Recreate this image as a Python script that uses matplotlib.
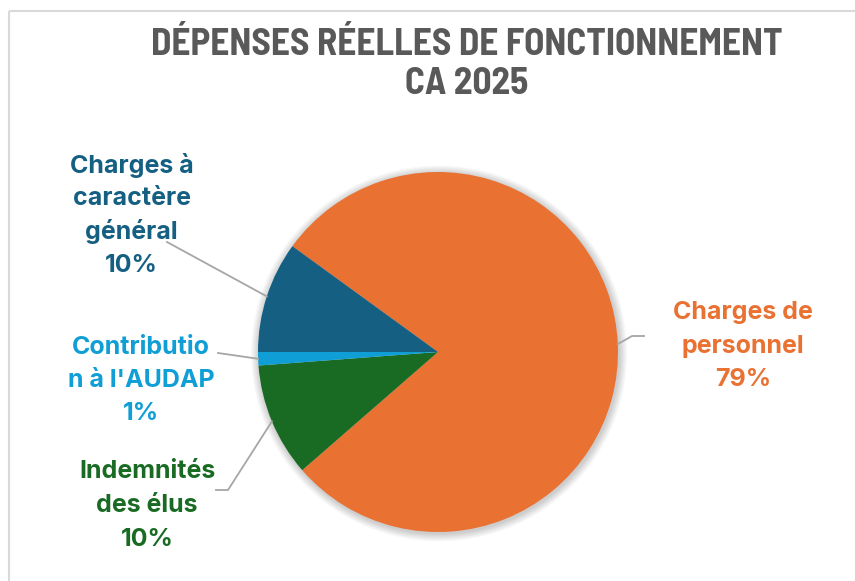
import matplotlib
matplotlib.use("Agg")
import matplotlib.pyplot as plt
import numpy as np
from matplotlib.patches import Circle

# ---- data ----
categories = ["Charges de personnel", "Indemnités des élus",
              "Contribution à l'AUDAP", "Charges à caractère général"]
label_lines = [["Charges de", "personnel"],
               ["Indemnités", "des élus"],
               ["Contributio", "n à l'AUDAP"],
               ["Charges à", "caractère", "général"]]
shares = [78.6, 10.2, 1.2, 10.0]
colors = ["#E97132", "#196B24", "#0F9ED5", "#156082"]
title_lines = ["DÉPENSES RÉELLES DE FONCTIONNEMENT", "CA 2025"]

# ---- layout (pixels) ----
W, H = 855, 581
cx, cy, R = 438, 352, 180
label_pos = [(743, 313), (147, 472), (141, 347), (131.5, 165)]
label_anchor = [[(632, 336), (644, 336)],
                [(228, 490), (216, 490)],
                [(218, 353)],
                [(167, 242)]]
line_step = 33.5

TITLE_FONT = ["Barlow Semi Condensed", "Roboto Condensed", "DejaVu Sans"]
LABEL_FONT = ["Inter", "Open Sans", "DejaVu Sans"]

fig = plt.figure(figsize=(W / 100, H / 100), dpi=100)
fig.patch.set_facecolor("white")

pad = 12
pie_ax = fig.add_axes([(cx - R - pad) / W, 1 - (cy + R + pad) / H,
                       (2 * R + 2 * pad) / W, (2 * R + 2 * pad) / H])
# soft shadow
for i in range(10):
    pie_ax.add_patch(Circle((0.006, -0.008), 1 + 0.0045 * (i + 1),
                            color="black", alpha=0.018, lw=0, zorder=0))
wedges, _ = pie_ax.pie(shares, colors=colors, startangle=144,
                       counterclock=False, radius=1,
                       wedgeprops=dict(linewidth=0))
for w in wedges:
    w.set_zorder(2)
lim = (R + pad) / R
pie_ax.set_xlim(-lim, lim)
pie_ax.set_ylim(-lim, lim)
pie_ax.set_aspect("equal")
pie_ax.axis("off")

ov = fig.add_axes([0, 0, 1, 1], facecolor="none")
ov.set_xlim(0, W)
ov.set_ylim(H, 0)
ov.axis("off")

# chart border
ov.plot([8.5, W], [11, 11], color="#D9D9D9", lw=1.5, solid_capstyle="butt")
ov.plot([8.5, 8.5], [11, H], color="#D9D9D9", lw=1.5, solid_capstyle="butt")

# title
for i, t in enumerate(title_lines):
    ov.text(467, 45 + i * 39, t, ha="center", va="center",
            fontsize=26.8, fontweight="bold", color="#595959",
            family=TITLE_FONT)

# labels and leader lines
for w, lines, share, col, (lx, ly), anc in zip(wedges, label_lines, shares,
                                               colors, label_pos, label_anchor):
    mid = np.deg2rad((w.theta1 + w.theta2) / 2)
    ex, ey = cx + R * np.cos(mid), cy - R * np.sin(mid)
    xs = [ex] + [p[0] for p in anc]
    ys = [ey] + [p[1] for p in anc]
    ov.plot(xs, ys, color="#A6A6A6", lw=1.3)
    texts = lines + [f"{round(share):.0f}%"]
    for k, t in enumerate(texts):
        ov.text(lx, ly + k * line_step, t, ha="center", va="center",
                fontsize=18, fontweight="bold", color=col, family=LABEL_FONT)

fig.savefig("out.png", dpi=100)
